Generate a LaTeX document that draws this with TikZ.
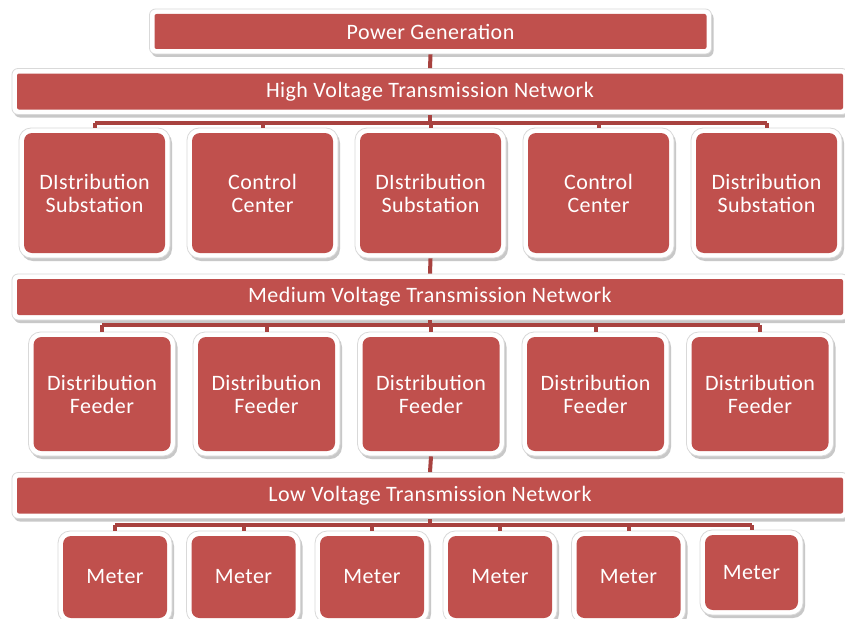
\documentclass[tikz,border=0pt]{standalone}
\usepackage{fontspec}
\setmainfont{Carlito}
\newfontfamily\boxfont[LetterSpace=2]{Carlito}
\usepackage{xcolor}
\usetikzlibrary{shadows}

\definecolor{boxred}{HTML}{C0504D}
\definecolor{busred}{HTML}{A8423F}

\tikzset{
  box/.style={fill=white, draw=black!15, line width=0.8pt, rounded corners=#1,
    text=white, align=center, inner sep=0pt,
    drop shadow={shadow xshift=2pt, shadow yshift=-3pt, opacity=0.3, fill=black!70},
    path picture={\fill[boxred, rounded corners=#1-4pt]
      ([xshift=5pt,yshift=-5pt]path picture bounding box.north west) rectangle
      ([xshift=-5pt,yshift=5pt]path picture bounding box.south east);},
    font=\boxfont\fontsize{22}{23}\selectfont},
  box/.default=12pt,
  bar/.style={box=6pt, minimum width=836pt, minimum height=46pt},
  subbox/.style={box, minimum width=151pt, minimum height=130pt},
  feederbox/.style={box, minimum width=147pt, minimum height=124pt},
  meterbox/.style={box, minimum width=114pt, minimum height=92pt},
  bus/.style={busred, line width=4pt}
}

\begin{document}
\begin{tikzpicture}[x=1pt, y=-1pt]
  \useasboundingbox[fill=white] (0,0) rectangle (845,618);

  \node[bar, minimum width=562pt, minimum height=45pt] (pg) at (430.5,31.5) {Power Generation};
  \node[bar] (hv) at (430,91.5) {High Voltage Transmission Network};
  \node[bar] (mv) at (430,297) {Medium Voltage Transmission Network};
  \node[bar] (lv) at (430,495.5) {Low Voltage Transmission Network};

  % substations and control centers
  \node[subbox] (s1) at (94.5,193)  {DIstribution\\Substation};
  \node[subbox] (s2) at (262.5,193) {Control\\Center};
  \node[subbox] (s3) at (430.5,193) {DIstribution\\Substation};
  \node[subbox] (s4) at (598.5,193) {Control\\Center};
  \node[subbox] (s5) at (766.5,193) {Distribution\\Substation};

  % feeders
  \foreach \i/\x in {1/102,2/266.5,3/431,4/595.5,5/760}
    \node[feederbox] (f\i) at (\x,394) {Distribution\\Feeder};

  % meters
  \foreach \i/\x in {1/115,2/243.5,3/372,4/500,5/628.5}
    \node[meterbox] (m\i) at (\x,577) {Meter};
  \node[meterbox, minimum width=103pt, minimum height=85pt] (m6) at (751.5,572.5) {Meter};

  \coordinate (b1) at (0,123);
  \coordinate (b2) at (0,325);
  \coordinate (b3) at (0,525);

  \draw[bus] (pg.south) -- (hv.north);
  \draw[bus] (hv.south) -- (hv.south |- b1);
  \draw[bus] (s1.north |- b1) -- (s5.north |- b1);
  \foreach \i in {1,...,5}
    \draw[bus] (s\i.north |- b1) -- (s\i.north);

  \draw[bus] (s3.south) -- (mv.north);
  \draw[bus] (mv.south) -- (mv.south |- b2);
  \draw[bus] (f1.north |- b2) -- (f5.north |- b2);
  \foreach \i in {1,...,5}
    \draw[bus] (f\i.north |- b2) -- (f\i.north);

  \draw[bus] (f3.south) -- (lv.north);
  \draw[bus] (lv.south) -- (lv.south |- b3);
  \draw[bus] (m1.north |- b3) -- (m6.north |- b3);
  \foreach \i in {1,...,6}
    \draw[bus] (m\i.north |- b3) -- (m\i.north);
\end{tikzpicture}
\end{document}
